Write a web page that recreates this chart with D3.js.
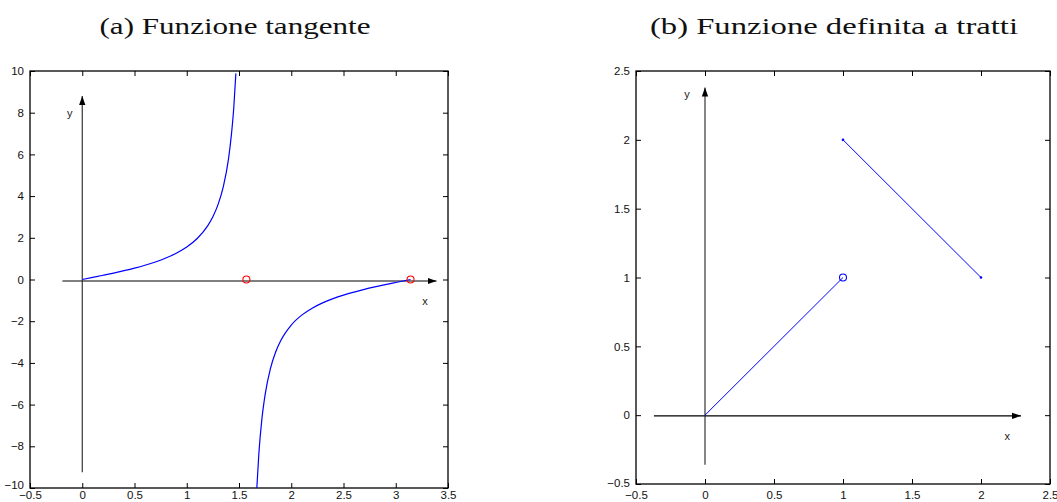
<!DOCTYPE html>
<html><head><meta charset="utf-8">
<script src="https://cdn.jsdelivr.net/npm/d3@7"></script>
<style>body{margin:0;background:#fff}svg{display:block}</style>
</head><body>
<svg id="c" width="1057" height="502"></svg>
<script>
// ---- Panel (a) data ----
const titleA = "(a) Funzione tangente";
const xTicksA = [-0.5, 0, 0.5, 1, 1.5, 2, 2.5, 3, 3.5];
const yTicksA = [-10, -8, -6, -4, -2, 0, 2, 4, 6, 8, 10];
const tanX1 = [0, 0.1, 0.2, 0.3, 0.4, 0.5, 0.6, 0.7, 0.8, 0.9, 1.0, 1.1, 1.2, 1.25, 1.3, 1.35, 1.4, 1.43, 1.45, 1.47];
const tanY1 = [0, 0.10, 0.203, 0.309, 0.423, 0.546, 0.684, 0.842, 1.03, 1.26, 1.557, 1.965, 2.572, 3.01, 3.602, 4.455, 5.798, 7.083, 8.238, 9.887];
const tanX2 = [1.67, 1.69, 1.72, 1.75, 1.8, 1.85, 1.9, 2.0, 2.1, 2.2, 2.3, 2.4, 2.5, 2.6, 2.7, 2.8, 2.9, 3.0, 3.1416];
const tanY2 = [-10.05, -8.35, -6.65, -5.52, -4.286, -3.488, -2.927, -2.185, -1.71, -1.374, -1.119, -0.916, -0.747, -0.602, -0.473, -0.356, -0.246, -0.143, 0];
const redX = [1.5708, 3.1416];
const redY = [0, 0];
const axisA = {x0: -0.19, x1: 3.39, xy: -0.07, y0: -9.25, y1: 8.8, yx: 0, xLab: [3.28, -1.06], yLab: [-0.12, 8.0]};

// ---- Panel (b) data ----
const titleB = "(b) Funzione definita a tratti";
const xTicksB = [-0.5, 0, 0.5, 1, 1.5, 2, 2.5];
const yTicksB = [-0.5, 0, 0.5, 1, 1.5, 2, 2.5];
const seg1X = [0, 1], seg1Y = [0, 1];
const seg2X = [1, 2], seg2Y = [2, 1];
const openX = [1], openY = [1];
const dotX = [1, 2], dotY = [2, 1];
const axisB = {x0: -0.37, x1: 2.29, xy: -0.005, y0: -0.36, y1: 2.38, yx: 0, xLab: [2.19, -0.15], yLab: [-0.13, 2.33]};

const svg = d3.select("#c");
const defs = svg.append("defs");
defs.append("marker").attr("id","arr").attr("viewBox","0 0 10 10")
  .attr("refX",10).attr("refY",5).attr("markerWidth",9).attr("markerHeight",9)
  .attr("markerUnits","userSpaceOnUse").attr("orient","auto")
  .append("path").attr("d","M0,1.5 L10,5 L0,8.5 Z").attr("fill","#000");

const fmt = v => (v < 0 ? "\u2212" : "") + String(Math.abs(v));

function panel(opt){
  const g = svg.append("g");
  const x = d3.scaleLinear().domain(opt.xd).range([opt.L, opt.R]);
  const y = d3.scaleLinear().domain(opt.yd).range([opt.B, opt.T]);
  const clipId = "clip" + opt.id;
  defs.append("clipPath").attr("id", clipId).append("rect")
    .attr("x", opt.L).attr("y", opt.T).attr("width", opt.R-opt.L).attr("height", opt.B-opt.T);
  // title
  g.append("text").attr("x", (opt.L+opt.R)/2 + opt.tdx).attr("y", 34)
    .attr("text-anchor","middle").attr("font-family","'Liberation Serif', 'Times New Roman', serif")
    .attr("font-size", 24).attr("textLength", opt.tw).attr("lengthAdjust","spacingAndGlyphs")
    .attr("fill","#111").text(opt.title);
  // axes with inward ticks
  const tl = 5;
  const bottom = d3.axisBottom(x).tickValues(opt.xt).tickSize(-tl).tickFormat(fmt).tickPadding(opt.xpad);
  const top = d3.axisTop(x).tickValues(opt.xt).tickSize(-tl).tickFormat("");
  const left = d3.axisLeft(y).tickValues(opt.yt).tickSize(-tl).tickFormat(fmt).tickPadding(6);
  const right = d3.axisRight(y).tickValues(opt.yt).tickSize(-tl).tickFormat("");
  [[bottom, `translate(0,${opt.B})`],[top, `translate(0,${opt.T})`],[left, `translate(${opt.L},0)`],[right, `translate(${opt.R},0)`]].forEach(([a,t],k)=>{
    const s = g.append("g").attr("transform", t).call(a);
    s.select(".domain").remove();
    s.selectAll("line").attr("stroke","#000");
    s.selectAll("text").attr("font-family","'Liberation Sans', Arial, sans-serif").attr("font-size",11.5).attr("fill","#111");
    if (k === 2) {
      // lift the lowest y label slightly so it clears the x label below it
      s.selectAll(".tick").filter(d => d === opt.yd[0]).select("text").attr("dy", opt.lowDy);
    }
  });
  g.append("rect").attr("x",opt.L).attr("y",opt.T).attr("width",opt.R-opt.L).attr("height",opt.B-opt.T)
    .attr("fill","none").attr("stroke","#000").attr("stroke-width",1.3);
  // coordinate arrows
  const a = opt.axis;
  g.append("line").attr("x1",x(a.x0)).attr("x2",x(a.x1)).attr("y1",y(a.xy)).attr("y2",y(a.xy))
    .attr("stroke","#000").attr("stroke-width",1.1).attr("marker-end","url(#arr)");
  g.append("line").attr("x1",x(a.yx)).attr("x2",x(a.yx)).attr("y1",y(a.y0)).attr("y2",y(a.y1))
    .attr("stroke","#222").attr("stroke-width",1.1).attr("marker-end","url(#arr)");
  g.append("text").attr("x",x(a.xLab[0])).attr("y",y(a.xLab[1])).attr("text-anchor","middle").attr("dy","0.35em")
    .attr("font-family","'Liberation Sans', Arial, sans-serif").attr("font-size",11).attr("fill","#222").text("x");
  g.append("text").attr("x",x(a.yLab[0])).attr("y",y(a.yLab[1])).attr("text-anchor","middle").attr("dy","0.35em")
    .attr("font-family","'Liberation Sans', Arial, sans-serif").attr("font-size",11).attr("fill","#222").text("y");
  const plot = g.append("g").attr("clip-path", `url(#${clipId})`);
  return {g, plot, x, y};
}

// Panel (a)
const A = panel({id:"a", L:30, R:448, T:71, B:488, xd:[-0.5,3.5], yd:[-10,10], xt:xTicksA, yt:yTicksA,
  title:titleA, tw:271, tdx:-4, axis:axisA, xpad:2.5, lowDy:"0.05em"});
const lineA = d3.line().x(d=>A.x(d[0])).y(d=>A.y(d[1])).curve(d3.curveMonotoneX);
[[tanX1,tanY1],[tanX2,tanY2]].forEach(([xs,ys])=>{
  A.plot.append("path").datum(xs.map((v,i)=>[v,ys[i]])).attr("d",lineA)
    .attr("fill","none").attr("stroke","#0000ff").attr("stroke-width",1.2);
});
A.plot.selectAll(".red").data(redX.map((v,i)=>[v,redY[i]])).join("circle")
  .attr("cx",d=>A.x(d[0])).attr("cy",d=>A.y(d[1])).attr("r",3.5)
  .attr("fill","none").attr("stroke","#ff0000").attr("stroke-width",1.1);

// Panel (b)
const B = panel({id:"b", L:636, R:1050, T:71, B:484, xd:[-0.5,2.5], yd:[-0.5,2.5], xt:xTicksB, yt:yTicksB,
  title:titleB, tw:368, tdx:-9, axis:axisB, xpad:6.5, lowDy:"0.2em"});
const lineB = d3.line().x(d=>B.x(d[0])).y(d=>B.y(d[1]));
[[seg1X,seg1Y],[seg2X,seg2Y]].forEach(([xs,ys])=>{
  B.plot.append("path").datum(xs.map((v,i)=>[v,ys[i]])).attr("d",lineB)
    .attr("fill","none").attr("stroke","#0000ff").attr("stroke-width",1);
});
B.plot.selectAll(".dot").data(dotX.map((v,i)=>[v,dotY[i]])).join("circle")
  .attr("cx",d=>B.x(d[0])).attr("cy",d=>B.y(d[1])).attr("r",1.3).attr("fill","#0000ff");
B.plot.selectAll(".open").data(openX.map((v,i)=>[v,openY[i]])).join("circle")
  .attr("cx",d=>B.x(d[0])).attr("cy",d=>B.y(d[1])).attr("r",3.5)
  .attr("fill","none").attr("stroke","#0000ff").attr("stroke-width",1.1);
</script>
</body></html>
